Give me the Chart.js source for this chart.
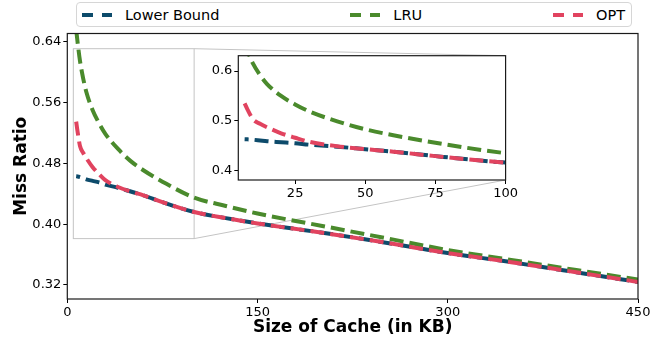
<!DOCTYPE html>
<html>
<head>
<meta charset="utf-8">
<script src="https://cdn.jsdelivr.net/npm/chart.js@4/dist/chart.umd.min.js"></script>
<style>
  body { margin: 0; background: #fff; }
  #wrap { position: relative; width: 665px; height: 341px; font-family: 'DejaVu Sans', sans-serif; }
  #main { position: absolute; left: 0; top: 0; }
  #inset { position: absolute; left: 195px; top: 45px; }
  #legend {
    position: absolute; left: 76px; top: 2px; width: 556px; height: 25px; box-sizing: border-box;
    border: 1px solid #d6d6d6; border-radius: 4px; background: #fff;
    display: flex; justify-content: space-between; align-items: center; padding: 0 6px 0 5px;
    font-size: 14.5px; color: #000;
  }
  .item { display: flex; align-items: center; white-space: nowrap; }
  .handle { display: flex; width: 31px; margin-right: 12px; }
  .handle span { height: 4px; }
</style>
</head>
<body>
<div id="wrap">
  <canvas id="main" width="665" height="341"></canvas>
  <canvas id="inset" width="325" height="160"></canvas>
  <div id="legend"></div>
</div>
<script>
// data
const cacheSizes = [7, 8, 10, 12.5, 15, 20, 25, 30, 40, 50, 60, 75, 100, 125, 150, 200, 250, 300, 350, 400, 450];
const lowerBound = [0.463, 0.4628, 0.462, 0.4605, 0.459, 0.457, 0.455, 0.452, 0.448, 0.443, 0.438, 0.429, 0.416, 0.408, 0.401, 0.389, 0.376, 0.362, 0.350, 0.337, 0.324];
const lru = [0.656, 0.641, 0.615, 0.592, 0.574, 0.550, 0.533, 0.519, 0.499, 0.483, 0.471, 0.456, 0.435, 0.424, 0.414, 0.398, 0.382, 0.366, 0.353, 0.340, 0.327];
const opt = [0.535, 0.523, 0.503, 0.494, 0.487, 0.475, 0.466, 0.458, 0.449, 0.443, 0.438, 0.429, 0.416, 0.408, 0.401, 0.389, 0.376, 0.362, 0.350, 0.337, 0.324];

const seriesNames = ['Lower Bound', 'LRU', 'OPT'];
const seriesColors = ['#0d4b6b', '#4a8a2c', '#e1435f'];
const seriesValues = [lowerBound, lru, opt];
const dashOffsets = [10, 0, 0];

const xTicks = [0, 150, 300, 450];
const yTicks = [0.32, 0.40, 0.48, 0.56, 0.64];
const insetXTicks = [25, 50, 75, 100];
const insetYTicks = [0.4, 0.5, 0.6];

const FONT = 'DejaVu Sans';

function makeDatasets() {
  return seriesNames.map((name, i) => ({
    label: name,
    data: cacheSizes.map((x, j) => ({ x: x, y: seriesValues[i][j] })),
    borderColor: seriesColors[i],
    borderWidth: 4,
    borderDash: [14, 6],
    borderDashOffset: dashOffsets[i],
    pointRadius: 0,
    fill: false,
    order: seriesNames.length - i, // later series on top, like the original
    cubicInterpolationMode: 'monotone'
  }));
}

function axis(opts) {
  return {
    type: 'linear',
    min: opts.min,
    max: opts.max,
    afterBuildTicks: s => { s.ticks = opts.ticks.map(v => ({ value: v })); },
    afterFit: opts.fit,
    grid: { display: true, drawOnChartArea: false, drawTicks: true, tickLength: 4, color: '#000', tickWidth: 1 },
    border: { display: false },
    ticks: {
      font: { family: FONT, size: 13 },
      color: '#000',
      padding: 2,
      maxRotation: 0,
      autoSkip: false,
      callback: opts.fmt
    },
    title: opts.title || { display: false }
  };
}

// full black frame around the plot area
const framePlugin = {
  id: 'frame',
  beforeDraw(chart) {
    const a = chart.chartArea, ctx = chart.ctx;
    if (chart.options.plugins.frame.fill) {
      ctx.save();
      ctx.fillStyle = '#fff';
      ctx.fillRect(a.left, a.top, a.right - a.left, a.bottom - a.top);
      ctx.restore();
    }
  },
  afterDraw(chart) {
    const a = chart.chartArea, ctx = chart.ctx;
    ctx.save();
    ctx.strokeStyle = '#1a1a1a';
    ctx.lineWidth = 1.2;
    ctx.strokeRect(a.left, a.top, a.right - a.left, a.bottom - a.top);
    ctx.restore();
  }
};

const insetChart = new Chart(document.getElementById('inset'), {
  type: 'line',
  data: { datasets: makeDatasets() },
  plugins: [framePlugin],
  options: {
    responsive: false,
    animation: false,
    devicePixelRatio: 1,
    layout: { padding: { left: 0, top: 10.7, right: 13.3, bottom: 0 } },
    plugins: { legend: { display: false }, tooltip: { enabled: false }, frame: { fill: true } },
    scales: {
      x: axis({ min: 4.75, max: 100, ticks: insetXTicks, fmt: v => String(v), fit: s => { s.height = 25; } }),
      y: axis({ min: 0.381, max: 0.631, ticks: insetYTicks, fmt: v => v.toFixed(1), fit: s => { s.width = 43.3; } })
    }
  }
});

// zoom rectangle + connector lines to the inset
const markInset = {
  id: 'markInset',
  beforeDatasetsDraw(chart) {
    const x = chart.scales.x, y = chart.scales.y, ctx = chart.ctx;
    const l = x.getPixelForValue(insetChart.scales.x.min);
    const r = x.getPixelForValue(insetChart.scales.x.max);
    const t = y.getPixelForValue(insetChart.scales.y.max);
    const b = y.getPixelForValue(insetChart.scales.y.min);
    const cv = insetChart.canvas;
    const ia = insetChart.chartArea;
    const iRight = cv.offsetLeft + ia.right;
    const iTop = cv.offsetTop + ia.top;
    const iBottom = cv.offsetTop + ia.bottom;
    ctx.save();
    ctx.strokeStyle = '#c4c4c4';
    ctx.lineWidth = 1;
    ctx.strokeRect(l, t, r - l, b - t);
    ctx.beginPath();
    ctx.moveTo(r, t); ctx.lineTo(iRight, iTop);
    ctx.moveTo(r, b); ctx.lineTo(iRight, iBottom);
    ctx.stroke();
    ctx.restore();
  }
};

new Chart(document.getElementById('main'), {
  type: 'line',
  data: { datasets: makeDatasets() },
  plugins: [markInset, framePlugin],
  options: {
    responsive: false,
    animation: false,
    devicePixelRatio: 1,
    layout: { padding: { left: 0, top: 33.5, right: 27, bottom: 0 } },
    plugins: { legend: { display: false }, tooltip: { enabled: false }, frame: { fill: false } },
    scales: {
      x: axis({
        min: 0, max: 450, ticks: xTicks, fmt: v => String(v), fit: s => { s.height = 42; },
        title: { display: true, text: 'Size of Cache (in KB)', color: '#000',
                 font: { family: FONT, size: 17, weight: 'bold' }, padding: { top: 0, bottom: 3 } }
      }),
      y: axis({
        min: 0.3015, max: 0.651, ticks: yTicks, fmt: v => v.toFixed(2), fit: s => { s.width = 67.3; },
        title: { display: true, text: 'Miss Ratio', color: '#000',
                 font: { family: FONT, size: 17, weight: 'bold' }, padding: { top: 11, bottom: 0 } }
      })
    }
  }
});

// legend built from the series
const legend = document.getElementById('legend');
seriesNames.forEach((name, i) => {
  const item = document.createElement('div');
  item.className = 'item';
  item.innerHTML = `<div class="handle"><span style="width:11px;background:${seriesColors[i]}"></span>` +
    `<span style="width:9px"></span><span style="width:10px;background:${seriesColors[i]}"></span></div>` +
    `<span>${name}</span>`;
  legend.appendChild(item);
});
</script>
</body>
</html>
